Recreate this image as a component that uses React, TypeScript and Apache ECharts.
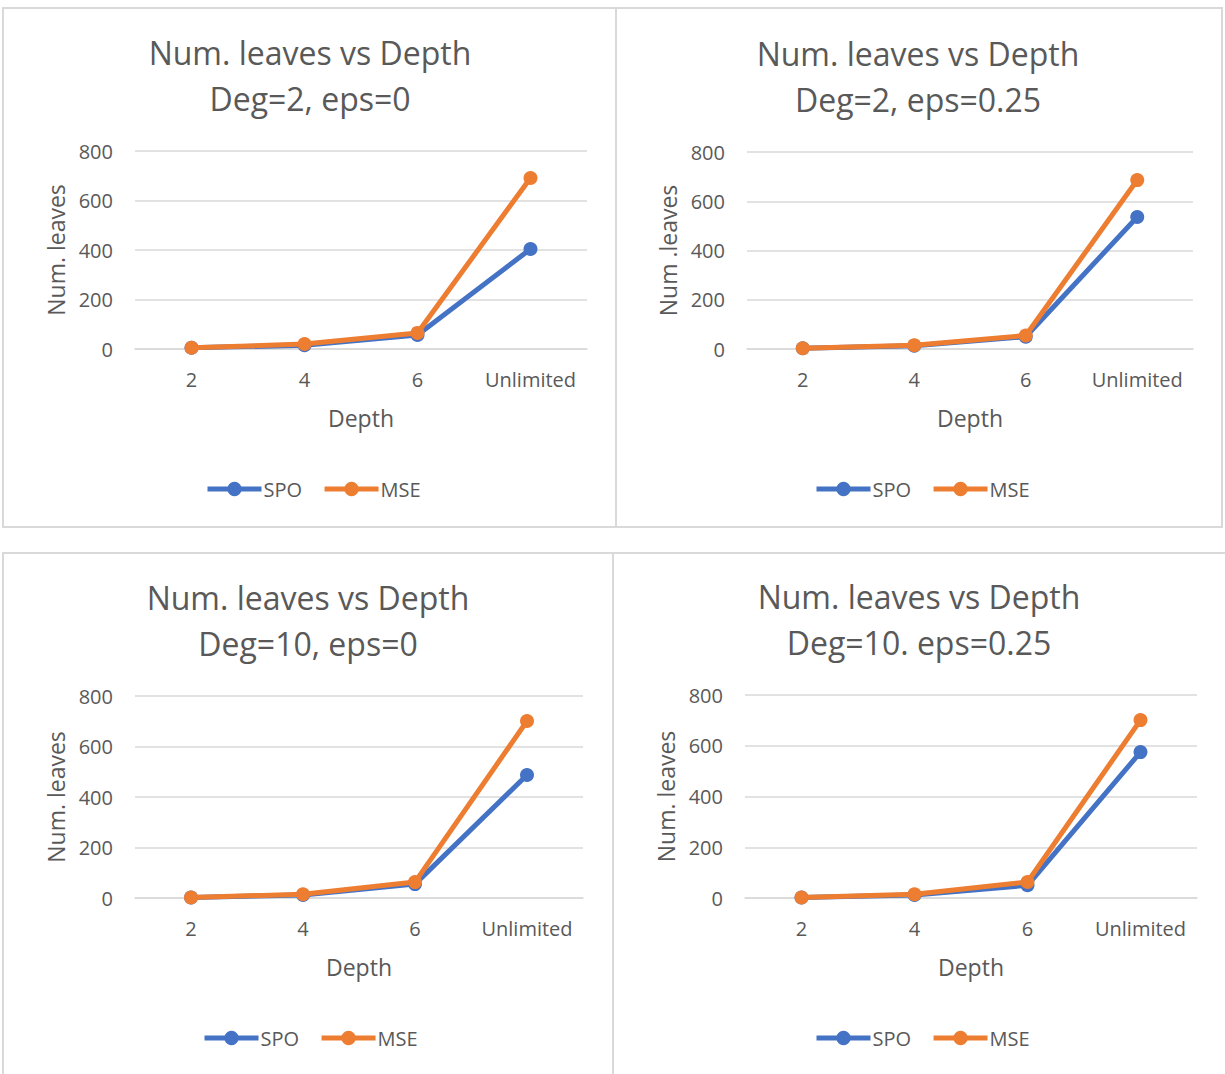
import React, { useEffect, useRef } from "react";
import * as echarts from "echarts";

const categories = ["2", "4", "6", "Unlimited"];
const seriesNames = ["SPO", "MSE"];
const titles = [
  "Num. leaves vs Depth\nDeg=2, eps=0",
  "Num. leaves vs Depth\nDeg=2, eps=0.25",
  "Num. leaves vs Depth\nDeg=10, eps=0",
  "Num. leaves vs Depth\nDeg=10. eps=0.25",
];
const yNames = ["Num. leaves", "Num .leaves", "Num. leaves", "Num. leaves"];
const xName = "Depth";
const yMin = 0;
const yMax = 800;
const yInterval = 200;

const spo1 = [5, 15, 57, 404];
const mse1 = [5, 20, 65, 691];
const spo2 = [3, 13, 50, 536];
const mse2 = [3, 15, 55, 686];
const spo3 = [2, 12, 55, 487];
const mse3 = [2, 15, 63, 701];
const spo4 = [2, 12, 50, 575];
const mse4 = [2, 15, 63, 701];

const spoSets = [spo1, spo2, spo3, spo4];
const mseSets = [mse1, mse2, mse3, mse4];

const BLUE = "#4472C4";
const ORANGE = "#ED7D31";
const TEXT = "#595959";
const GRID = "#D9D9D9";
const FONT = "'Open Sans', 'Noto Sans', sans-serif";

// layout per panel
const boxes = [
  { x: 3, y: 8, w: 613, h: 519 },
  { x: 616, y: 8, w: 606, h: 519 },
  { x: 3, y: 553, w: 610, h: 530 },
  { x: 613, y: 553, w: 620, h: 530 },
];
const grids = [
  { left: 135, top: 151, width: 452, height: 198 },
  { left: 747, top: 152, width: 446, height: 197 },
  { left: 135, top: 696, width: 448, height: 202 },
  { left: 745, top: 695, width: 452, height: 203 },
];
const titlePos = [
  { cx: 310, top: 29 },
  { cx: 918, top: 30 },
  { cx: 308, top: 574 },
  { cx: 919, top: 573 },
];
const legendPos = [
  { left: 205, top: 479 },
  { left: 814, top: 479 },
  { left: 202, top: 1028 },
  { left: 814, top: 1028 },
];

export default function App() {
  const ref = useRef<HTMLDivElement>(null);
  useEffect(() => {
    if (!ref.current) return;
    const chart = echarts.init(ref.current, undefined, { renderer: "svg" });
    const option: any = {
      animation: false,
      backgroundColor: "#ffffff",
      textStyle: { fontFamily: FONT },
      title: titles.map((t, i) => ({
        text: t,
        left: titlePos[i].cx,
        top: titlePos[i].top,
        padding: 0,
        textAlign: "center",
        textStyle: {
          fontFamily: FONT,
          fontSize: 32,
          fontWeight: "normal",
          color: TEXT,
          lineHeight: 46,
        },
      })),
      legend: legendPos.map((p) => ({
        data: seriesNames,
        left: p.left,
        top: p.top,
        padding: 0,
        itemWidth: 54,
        itemHeight: 18,
        itemGap: 20,
        lineStyle: { width: 5 },
        textStyle: { fontFamily: FONT, fontSize: 20, color: TEXT, padding: [0, 0, 0, -3] },
      })),
      grid: grids.map((g) => ({ ...g, containLabel: false })),
      xAxis: grids.map((_, i) => ({
        type: "category",
        gridIndex: i,
        data: categories,
        boundaryGap: true,
        name: xName,
        nameLocation: "middle",
        nameGap: 57,
        nameTextStyle: { fontFamily: FONT, fontSize: 23, color: TEXT },
        axisLine: { show: true, lineStyle: { color: GRID, width: 1.5 } },
        axisTick: { show: false },
        axisLabel: {
          interval: 0,
          hideOverlap: false,
          margin: 20,
          fontFamily: FONT,
          fontSize: 20,
          color: TEXT,
        },
        splitLine: { show: false },
      })),
      yAxis: grids.map((_, i) => ({
        type: "value",
        gridIndex: i,
        min: yMin,
        max: yMax,
        interval: yInterval,
        name: yNames[i],
        nameLocation: "middle",
        nameGap: 68,
        nameTextStyle: { fontFamily: FONT, fontSize: 23, color: TEXT },
        axisLine: { show: false },
        axisTick: { show: false },
        axisLabel: { margin: 22, fontFamily: FONT, fontSize: 20, color: TEXT },
        splitLine: { show: true, lineStyle: { color: GRID, width: 1.5 } },
      })),
      series: grids.flatMap((_, i) => [
        {
          name: "SPO",
          type: "line",
          xAxisIndex: i,
          yAxisIndex: i,
          data: spoSets[i],
          symbol: "circle",
          symbolSize: 14,
          lineStyle: { color: BLUE, width: 5 },
          itemStyle: { color: BLUE },
          z: 2,
        },
        {
          name: "MSE",
          type: "line",
          xAxisIndex: i,
          yAxisIndex: i,
          data: mseSets[i],
          symbol: "circle",
          symbolSize: 14,
          lineStyle: { color: ORANGE, width: 5 },
          itemStyle: { color: ORANGE },
          z: 3,
        },
      ]),
      graphic: boxes.map((b) => ({
        type: "rect",
        shape: { x: b.x, y: b.y, width: b.w, height: b.h },
        style: { fill: "none", stroke: GRID, lineWidth: 2 },
        silent: true,
      })),
    };
    chart.setOption(option);
    return () => chart.dispose();
  }, []);
  return (
    <div
      ref={ref}
      style={{ position: "fixed", left: 0, top: 0, width: 1225, height: 1074, background: "#fff" }}
    />
  );
}
